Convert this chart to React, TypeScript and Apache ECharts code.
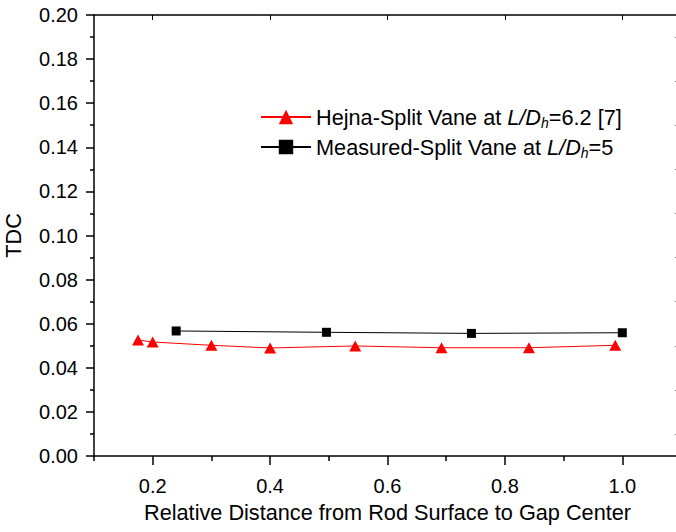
import React, { useEffect, useRef } from 'react';
import * as echarts from 'echarts';

// Hejna-Split Vane at L/Dh=6.2 [7]
const hejnaX = [0.175, 0.2, 0.3, 0.4, 0.545, 0.692, 0.841, 0.988];
const hejnaY = [0.0526, 0.0517, 0.0502, 0.049, 0.0499, 0.0491, 0.0491, 0.0502];
// Measured-Split Vane at L/Dh=5
const measuredX = [0.24, 0.496, 0.743, 1.0];
const measuredY = [0.0567, 0.0561, 0.0556, 0.0559];

const xMajorTicks = [0.2, 0.4, 0.6, 0.8, 1.0];
const xTickLabels = ['0.2', '0.4', '0.6', '0.8', '1.0'];
const xMinorTicks = [0.1, 0.3, 0.5, 0.7, 0.9, 1.1];
const seriesNames = ['Hejna', 'Measured'];
const legendTexts = [
  '{n|Hejna-Split Vane at }{i|L/D}{s|h}{n|=6.2 [7]}',
  '{n|Measured-Split Vane at }{i|L/D}{s|h}{n|=5}',
];

const FONT = 'Liberation Sans, Arial, sans-serif';

export default function App() {
  const ref = useRef<HTMLDivElement>(null);
  useEffect(() => {
    if (!ref.current) return;
    const chart = echarts.init(ref.current, undefined, { renderer: 'svg' });
    const gridRect = { left: 94, right: -5, top: 15, bottom: 76, containLabel: false, outerBoundsMode: 'none' };
    const axisColor = '#000';
    const option: any = {
      animation: false,
      backgroundColor: '#fff',
      textStyle: { fontFamily: FONT },
      grid: [{ ...gridRect }, { ...gridRect }],
      legend: {
        orient: 'vertical',
        left: 255,
        top: 101,
        itemWidth: 50,
        itemHeight: 18,
        itemGap: 6,
        data: seriesNames,
        formatter: (name: string) => legendTexts[seriesNames.indexOf(name)],
        textStyle: {
          color: '#000',
          fontFamily: FONT,
          fontSize: 21.7,
          rich: {
            n: { fontSize: 21.7, color: '#000', fontFamily: FONT, lineHeight: 26 },
            i: { fontSize: 21.7, color: '#000', fontStyle: 'italic', fontFamily: FONT, lineHeight: 26 },
            s: { fontSize: 14, color: '#000', fontStyle: 'italic', fontFamily: FONT, lineHeight: 14, verticalAlign: 'bottom' },
          },
        },
      },
      xAxis: [
        {
          type: 'value',
          gridIndex: 0,
          position: 'bottom',
          min: 0.1,
          max: 1.1,
          interval: 0.1,
          name: 'Relative Distance from Rod Surface to Gap Center',
          nameLocation: 'middle',
          nameGap: 45,
          nameTextStyle: { fontSize: 21.7, color: '#000', fontFamily: FONT },
          axisLine: { show: true, onZero: false, lineStyle: { color: axisColor, width: 1.5 } },
          axisTick: { show: true, customValues: xMajorTicks, length: 9, lineStyle: { color: axisColor, width: 1.5 } },
          axisLabel: {
            customValues: xMajorTicks,
            formatter: (v: number) => {
              const idx = xMajorTicks.findIndex((t) => Math.abs(t - v) < 1e-6);
              return idx >= 0 ? xTickLabels[idx] : '';
            },
            fontSize: 20,
            color: '#000',
            fontFamily: FONT,
            margin: 20,
          },
          splitLine: { show: false },
        },
        {
          type: 'value',
          gridIndex: 0,
          position: 'top',
          min: 0.1,
          max: 1.1,
          interval: 0.1,
          axisLine: { show: true, onZero: false, lineStyle: { color: axisColor, width: 1.5 } },
          axisTick: { show: true, inside: true, customValues: xMajorTicks, length: 5, lineStyle: { color: axisColor } },
          axisLabel: { show: false },
          splitLine: { show: false },
        },
        {
          type: 'value',
          gridIndex: 1,
          position: 'bottom',
          min: 0.1,
          max: 1.1,
          interval: 0.1,
          axisLine: { show: false, onZero: false },
          axisTick: { show: true, customValues: xMinorTicks, length: 5, lineStyle: { color: axisColor, width: 1.5 } },
          axisLabel: { show: false },
          splitLine: { show: false },
        },
      ],
      yAxis: [
        {
          type: 'value',
          gridIndex: 0,
          position: 'left',
          min: 0,
          max: 0.2,
          interval: 0.02,
          name: 'TDC',
          nameLocation: 'middle',
          nameGap: 70,
          nameTextStyle: { fontSize: 21.7, color: '#000', fontFamily: FONT },
          axisLine: { show: true, onZero: false, lineStyle: { color: axisColor, width: 1.5 } },
          axisTick: { show: true, length: 8, lineStyle: { color: axisColor, width: 1.5 } },
          minorTick: { show: true, splitNumber: 2, length: 4, lineStyle: { color: axisColor, width: 1.5 } },
          axisLabel: {
            formatter: (v: number) => v.toFixed(2),
            fontSize: 20,
            color: '#000',
            fontFamily: FONT,
            margin: 16,
          },
          splitLine: { show: false },
          minorSplitLine: { show: false },
        },
        {
          type: 'value',
          gridIndex: 0,
          position: 'right',
          min: 0,
          max: 0.2,
          interval: 0.02,
          axisLine: { show: true, onZero: false, lineStyle: { color: axisColor, width: 1.5 } },
          axisTick: { show: false, inside: true },
          minorTick: { show: true, splitNumber: 2, length: 6, lineStyle: { color: '#888', width: 1 } },
          axisLabel: { show: false },
          splitLine: { show: false },
        },
        {
          type: 'value',
          gridIndex: 1,
          min: 0,
          max: 0.2,
          show: false,
        },
      ],
      series: [
        {
          name: seriesNames[0],
          type: 'line',
          xAxisIndex: 0,
          yAxisIndex: 0,
          data: hejnaX.map((x, i) => [x, hejnaY[i]]),
          symbol: 'triangle',
          symbolSize: [12, 11],
          itemStyle: { color: '#ff0000' },
          lineStyle: { color: '#ff0000', width: 1 },
          z: 2,
        },
        {
          name: seriesNames[1],
          type: 'line',
          xAxisIndex: 0,
          yAxisIndex: 0,
          data: measuredX.map((x, i) => [x, measuredY[i]]),
          symbol: 'rect',
          symbolSize: 9,
          itemStyle: { color: '#000' },
          lineStyle: { color: '#000', width: 1 },
          z: 3,
        },
      ],
    };
    chart.setOption(option);
    return () => chart.dispose();
  }, []);
  return (
    <div
      ref={ref}
      style={{ position: 'absolute', left: 0, top: 0, width: 676, height: 532, background: '#fff' }}
    />
  );
}
